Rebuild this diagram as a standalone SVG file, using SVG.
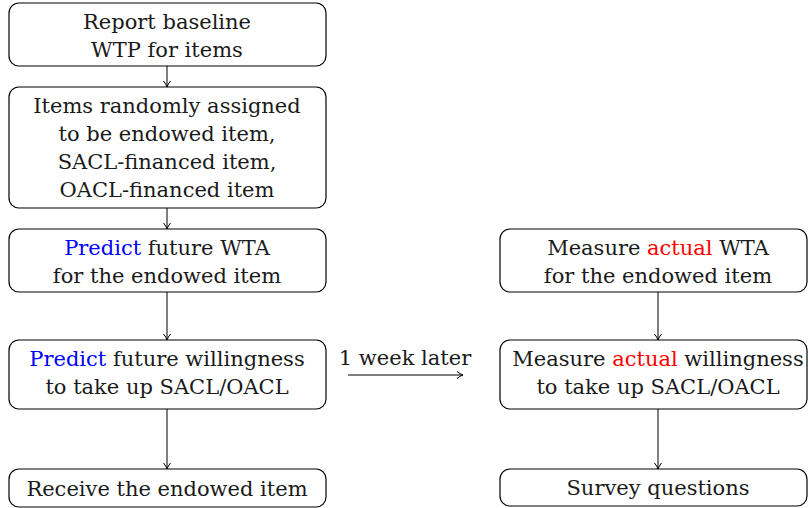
<svg xmlns="http://www.w3.org/2000/svg" width="808" height="508" viewBox="0 0 808 508">
<defs>
<marker id="arr" markerWidth="10" markerHeight="10" refX="8" refY="5" orient="auto" markerUnits="userSpaceOnUse">
<path d="M2,1.5 Q5,4 8,5 Q5,6 2,8.5" fill="none" stroke="#000" stroke-width="1"/>
</marker>
<style>
.box{fill:#fff;stroke:#000;stroke-width:1.2}
text{font-family:"DejaVu Serif","Liberation Serif",serif;font-size:21px;fill:#1a1a1a;text-anchor:middle}
.b{fill:#0000ff}
.r{fill:#ff0000}
.c{stroke:#000;stroke-width:1;fill:none;marker-end:url(#arr)}
</style>
</defs>
<g id="connectors">
<line class="c" x1="167" y1="66" x2="167" y2="87"/>
<line class="c" x1="167" y1="208" x2="167" y2="229"/>
<line class="c" x1="167" y1="292" x2="167" y2="340"/>
<line class="c" x1="167" y1="409" x2="167" y2="469"/>
<line class="c" x1="658" y1="292" x2="658" y2="340"/>
<line class="c" x1="658" y1="409" x2="658" y2="469"/>
<line class="c" x1="348" y1="375" x2="463" y2="375"/>
<text x="405" y="365">1 week later</text>
</g>
<g id="n1"><rect class="box" x="9" y="3" width="317" height="63" rx="10"/>
<text x="167" y="29">Report baseline</text><text x="167" y="57">WTP for items</text></g>
<g id="n2"><rect class="box" x="9" y="87" width="317" height="121" rx="10"/>
<text x="167" y="113">Items randomly assigned</text><text x="167" y="141">to be endowed item,</text><text x="167" y="169">SACL-financed item,</text><text x="167" y="197">OACL-financed item</text></g>
<g id="n3"><rect class="box" x="9" y="229" width="317" height="63" rx="10"/>
<text x="167" y="255"><tspan class="b">Predict</tspan> future WTA</text><text x="167" y="283">for the endowed item</text></g>
<g id="n4"><rect class="box" x="9" y="340" width="317" height="69" rx="10"/>
<text x="167" y="366"><tspan class="b">Predict</tspan> future willingness</text><text x="167" y="394">to take up SACL/OACL</text></g>
<g id="n5"><rect class="box" x="9" y="469" width="317" height="38" rx="10"/>
<text x="167" y="496">Receive the endowed item</text></g>
<g id="n6"><rect class="box" x="500" y="229" width="307" height="63" rx="10"/>
<text x="658" y="255">Measure <tspan class="r">actual</tspan> WTA</text><text x="658" y="283">for the endowed item</text></g>
<g id="n7"><rect class="box" x="500" y="340" width="307" height="69" rx="10"/>
<text x="658" y="366">Measure <tspan class="r">actual</tspan> willingness</text><text x="658" y="394">to take up SACL/OACL</text></g>
<g id="n8"><rect class="box" x="500" y="469" width="307" height="37" rx="10"/>
<text x="658" y="495">Survey questions</text></g>
</svg>
